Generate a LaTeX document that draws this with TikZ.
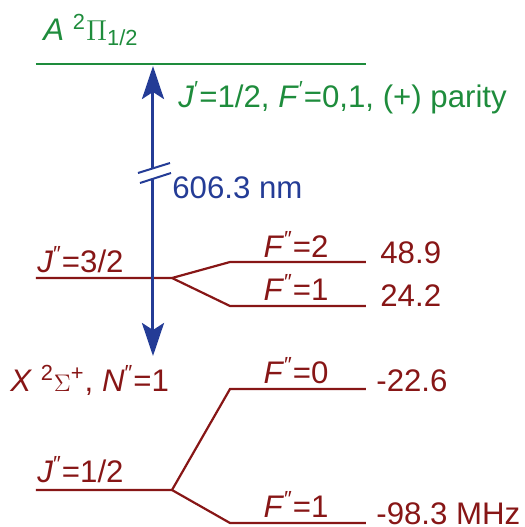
\documentclass[tikz,border=0pt]{standalone}
\usepackage{fontspec}
\setmainfont{Liberation Sans}
\usetikzlibrary{arrows.meta}
\definecolor{stgreen}{RGB}{30,140,60}
\definecolor{stblue}{RGB}{36,60,150}
\definecolor{stred}{RGB}{135,22,22}

\begin{document}
\begin{tikzpicture}[
  x=0.5pt, y=-0.5pt,
  font=\fontsize{15.6}{18}\selectfont,
  lvlA/.style={draw=stgreen, line width=1.1pt},
  lvlX/.style={draw=stred, line width=1.1pt},
  lbl/.style={anchor=base west, inner sep=0pt},
  flbl/.style={anchor=base, inner sep=0pt, text=stred},
  trans/.style={draw=stblue, line width=1.5pt,
    {Stealth[length=16.5pt, width=11pt, inset=3.5pt]}-{Stealth[length=16.5pt, width=11pt, inset=3.5pt]}},
  brk/.style={draw=stblue, line width=1pt},
]
\useasboundingbox (0,0) rectangle (525,527);

% ---- excited state
\coordinate (A1) at (36,64);
\coordinate (A2) at (366,64);
\draw[lvlA] (A1) -- (A2);
\node[lbl, text=stgreen] (Alab) at (43,40) {\textit{A} \textsuperscript{2}{\Large$\Pi$}\textsubscript{1/2}};
\node[lbl, text=stgreen] (Jplab) at (178,107) {\textit{J}\textsuperscript{′}=1/2, \textit{F}\textsuperscript{′}=0,1, (+) parity};

% ---- ground state, J''=3/2
\coordinate (J3a) at (36,278);
\coordinate (J3b) at (172,278);
\coordinate (F2a) at (230,262);
\coordinate (F2b) at (366,262);
\coordinate (F1a) at (230,306);
\coordinate (F1b) at (366,306);
\draw[lvlX] (J3a) -- (J3b) -- (F2a) -- (F2b);
\draw[lvlX] (J3b) -- (F1a) -- (F1b);
\node[lbl, text=stred] (J3lab) at (37,272) {\textit{J}\textsuperscript{″}=3/2};
\node[flbl] (F2lab) at (296,257) {\textit{F}\textsuperscript{″}=2};
\node[flbl] (F1lab) at (296,300) {\textit{F}\textsuperscript{″}=1};
\node[lbl, text=stred] (E2) at (380,263) {48.9};
\node[lbl, text=stred] (E1) at (380,306) {24.2};

% ---- ground state, J''=1/2
\node[lbl, text=stred] (Xlab) at (10,391) {\textit{X} \textsuperscript{2}{\large$\Sigma$}\textsuperscript{+}, \textit{N}\textsuperscript{″}=1};
\coordinate (J1a) at (36,490);
\coordinate (J1b) at (172,490);
\coordinate (F0a) at (230,389);
\coordinate (F0b) at (366,389);
\coordinate (G1a) at (230,523);
\coordinate (G1b) at (366,523);
\draw[lvlX] (J1a) -- (J1b) -- (F0a) -- (F0b);
\draw[lvlX] (J1b) -- (G1a) -- (G1b);
\node[lbl, text=stred] (J1lab) at (37,482) {\textit{J}\textsuperscript{″}=1/2};
\node[flbl] (F0lab) at (296,383) {\textit{F}\textsuperscript{″}=0};
\node[flbl] (G1lab) at (296,517) {\textit{F}\textsuperscript{″}=1};
\node[lbl, text=stred] (E0) at (376,391) {-22.6};
\node[lbl, text=stred] (Em) at (376,524) {-98.3 MHz};

% ---- transition arrow with break
\coordinate (up) at (153,66);
\coordinate (dn) at (153,356);
\draw[trans] (dn) -- (up);
\coordinate (b1) at (138,173);
\coordinate (b2) at (170,163);
\coordinate (b3) at (171,173);
\coordinate (b4) at (140,183);
\fill[white] (b1) -- (b2) -- (b3) -- (b4) -- cycle;
\draw[brk] (b1) -- (b2);
\draw[brk] (b4) -- (b3);
\node[lbl, text=stblue] (wl) at (172,198) {606.3 nm};
\end{tikzpicture}
\end{document}
